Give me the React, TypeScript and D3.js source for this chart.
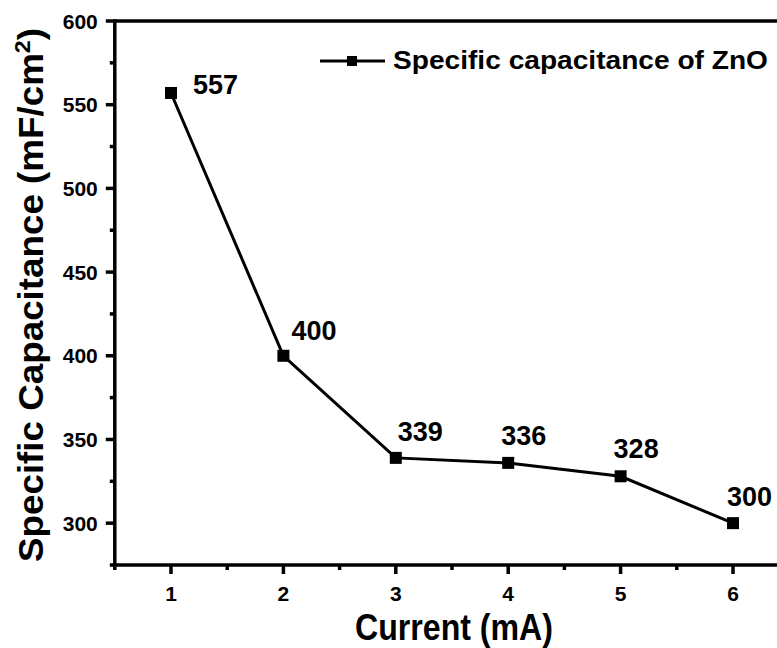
import React from "react";
import * as d3 from "d3";

const currents = [1, 2, 3, 4, 5, 6];
const capacitance = [557, 400, 339, 336, 328, 300];
const xMajorTicks = [1, 2, 3, 4, 5, 6];
const xMinorTicks = [0.5, 1.5, 2.5, 3.5, 4.5, 5.5, 6.5];
const yMajorTicks = [300, 350, 400, 450, 500, 550, 600];
const yMinorTicks = [275, 325, 375, 425, 475, 525, 575];
const seriesName = "Specific capacitance of ZnO";

// hand placed value labels, offset from each point (px)
const labelOffsets = [
  [22, 1],
  [8, -16],
  [2, -17],
  [-7, -18],
  [-7, -18],
  [-6, -17],
];

const FONT = "'Liberation Sans', Arial, sans-serif";

export default function App() {
  const width = 777;
  const height = 648;

  const x = d3.scaleLinear().domain([0.5, 6.5]).range([114.8, 789.2]);
  const y = d3.scaleLinear().domain([275, 600]).range([565, 21]);

  const line = d3
    .line<number>()
    .x((_, i) => x(currents[i]))
    .y((d) => y(d));

  const x0 = x(0.5);
  const y0 = y(275);
  const yTop = y(600);
  const sw = 3.5;

  return (
    <svg
      width={width}
      height={height}
      style={{ position: "absolute", left: 0, top: 0, background: "#fff" }}
      fontFamily={FONT}
      fontWeight="bold"
    >
      {/* frame */}
      <line x1={x0} x2={x(6.5)} y1={yTop} y2={yTop} stroke="#000" strokeWidth={sw} />
      <line x1={x(6.5)} x2={x(6.5)} y1={yTop} y2={y0} stroke="#000" strokeWidth={sw} />
      <line x1={x0} x2={x0} y1={yTop - 1.75} y2={y0 + 1.75} stroke="#000" strokeWidth={sw} />
      <line x1={x0 - 1.75} x2={x(6.5)} y1={y0} y2={y0} stroke="#000" strokeWidth={sw} />

      {/* y ticks */}
      {yMajorTicks.map((t) => (
        <g key={"ym" + t}>
          <line x1={x0 - 9} x2={x0} y1={y(t)} y2={y(t)} stroke="#000" strokeWidth={sw} />
          <text x={x0 - 17} y={y(t)} dy="0.36em" textAnchor="end" fontSize={21}>
            {t}
          </text>
        </g>
      ))}
      {yMinorTicks.map((t) => (
        <line key={"yn" + t} x1={x0 - 5} x2={x0} y1={y(t)} y2={y(t)} stroke="#000" strokeWidth={sw} />
      ))}

      {/* x ticks */}
      {xMajorTicks.map((t) => (
        <g key={"xm" + t}>
          <line x1={x(t)} x2={x(t)} y1={y0} y2={y0 + 9} stroke="#000" strokeWidth={sw} />
          <text x={x(t)} y={601} textAnchor="middle" fontSize={21}>
            {t}
          </text>
        </g>
      ))}
      {xMinorTicks.map((t) => (
        <line key={"xn" + t} x1={x(t)} x2={x(t)} y1={y0} y2={y0 + 5} stroke="#000" strokeWidth={sw} />
      ))}

      {/* axis titles */}
      <text
        x={454}
        y={640}
        textAnchor="middle"
        fontSize={37}
        textLength={198}
        lengthAdjust="spacingAndGlyphs"
      >
        Current (mA)
      </text>
      <text
        transform="translate(43,295) rotate(-90)"
        textAnchor="middle"
        fontSize={35}
        textLength={534}
        lengthAdjust="spacingAndGlyphs"
      >
        Specific Capacitance (mF/cm
        <tspan dy={-13} fontSize={22}>2</tspan>
        <tspan dy={13}>)</tspan>
      </text>

      {/* series */}
      <path d={line(capacitance) ?? ""} fill="none" stroke="#000" strokeWidth={3} />
      {capacitance.map((v, i) => (
        <rect
          key={"p" + i}
          x={x(currents[i]) - 6}
          y={y(v) - 6}
          width={12}
          height={12}
          fill="#000"
        />
      ))}
      {capacitance.map((v, i) => (
        <text
          key={"l" + i}
          x={x(currents[i]) + labelOffsets[i][0]}
          y={y(v) + labelOffsets[i][1]}
          fontSize={27}
        >
          {v}
        </text>
      ))}

      {/* legend */}
      <line x1={320} x2={385} y1={61} y2={61} stroke="#000" strokeWidth={3} />
      <rect x={347} y={56} width={10} height={10} fill="#000" />
      <text x={393} y={69} fontSize={26} textLength={375} lengthAdjust="spacingAndGlyphs">
        {seriesName}
      </text>
    </svg>
  );
}
